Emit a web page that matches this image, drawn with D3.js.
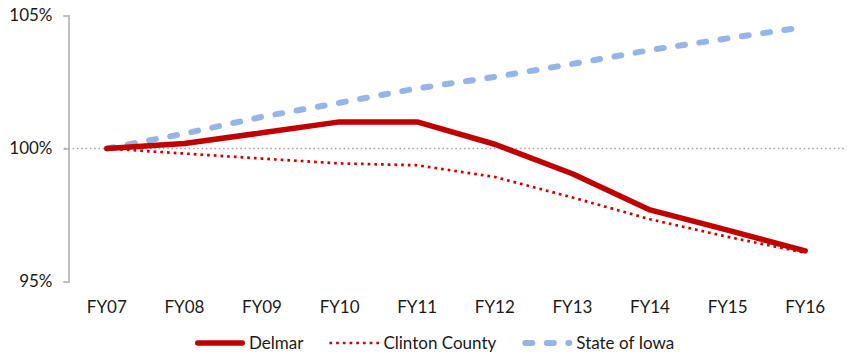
<!DOCTYPE html>
<html>
<head>
<meta charset="utf-8">
<script src="https://cdn.jsdelivr.net/npm/d3@7"></script>
<style>
  html, body { margin: 0; padding: 0; background: #fff; }
  svg { display: block; font-family: Lato, "Open Sans", sans-serif; }
</style>
</head>
<body>
<svg id="chart" width="847" height="356"></svg>
<script>
// Fiscal years on the horizontal axis
const categories = ["FY07", "FY08", "FY09", "FY10", "FY11", "FY12", "FY13", "FY14", "FY15", "FY16"];

// Index values (FY07 = 100%)
const delmar = [100, 100.19, 100.59, 101.0, 101.0, 100.16, 99.05, 97.69, 96.93, 96.15];
const clintonCounty = [100, 99.81, 99.62, 99.44, 99.37, 98.93, 98.16, 97.34, 96.68, 96.08];
const stateOfIowa = [100, 100.56, 101.19, 101.72, 102.26, 102.69, 103.18, 103.7, 104.14, 104.57];

const seriesNames = ["Delmar", "Clinton County", "State of Iowa"];
const yTicks = [95, 100, 105];
const baseline = 100;

const series = [
  { name: seriesNames[0], values: delmar, color: "#C00000", width: 5.5, dash: null, cap: "round" },
  { name: seriesNames[1], values: clintonCounty, color: "#D10000", width: 2.7, dash: "2.7,4", cap: "butt" },
  { name: seriesNames[2], values: stateOfIowa, color: "#97B4E6", width: 6, dash: "7,14.5", cap: "round" }
];

const svg = d3.select("#chart");
const fontSize = "17px";

const x = d3.scaleBand().domain(categories).range([68, 844]);
const y = d3.scaleLinear().domain([95, 105]).range([281.5, 15.5]);
const cx = c => x(c) + x.bandwidth() / 2;

// Vertical axis
const yAxis = svg.append("g")
  .attr("transform", "translate(68.5,0)")
  .call(d3.axisLeft(y).tickValues(yTicks).tickSize(5).tickPadding(11).tickFormat(d => d + "%"));
yAxis.select(".domain").attr("stroke", "#BFBFBF").attr("stroke-width", 2);
yAxis.selectAll(".tick line").attr("stroke", "#BFBFBF").attr("stroke-width", 2);
yAxis.selectAll(".tick text").attr("fill", "#1a1a1a").style("font-size", fontSize).attr("font-family", "Lato");

// Category labels
const xAxis = svg.append("g")
  .attr("transform", "translate(0,281.5)")
  .call(d3.axisBottom(x).tickSize(0).tickPadding(19));
xAxis.select(".domain").remove();
xAxis.selectAll(".tick text").attr("fill", "#1a1a1a").style("font-size", fontSize).attr("font-family", "Lato");

// 100% reference line
svg.append("line")
  .attr("x1", 64).attr("x2", 844)
  .attr("y1", y(baseline)).attr("y2", y(baseline))
  .attr("stroke", "#A6A6A6").attr("stroke-width", 1.6)
  .attr("stroke-dasharray", "1.6,2.7");

// Series lines
const line = d3.line()
  .x((d, i) => cx(categories[i]))
  .y(d => y(d));

svg.append("g").selectAll("path")
  .data(series.slice().reverse())
  .join("path")
  .attr("d", s => line(s.values))
  .attr("fill", "none")
  .attr("stroke", s => s.color)
  .attr("stroke-width", s => s.width)
  .attr("stroke-linejoin", "round")
  .attr("stroke-linecap", s => s.cap)
  .attr("stroke-dasharray", s => s.dash);

// Legend
const legend = svg.append("g");
let lx = 195;
const ly = 343;
series.forEach(s => {
  legend.append("line")
    .attr("x1", lx + (s.cap === "round" ? s.width / 2 : 0))
    .attr("x2", lx + 50 - (s.cap === "round" ? s.width / 2 : 0))
    .attr("y1", ly).attr("y2", ly)
    .attr("stroke", s.color)
    .attr("stroke-width", s.width)
    .attr("stroke-linecap", s.cap)
    .attr("stroke-dasharray", s.dash);
  const t = legend.append("text")
    .attr("x", lx + 54)
    .attr("y", ly)
    .attr("dy", "0.35em")
    .attr("fill", "#1a1a1a")
    .style("font-size", fontSize)
    .text(s.name);
  lx = lx + 54 + t.node().getComputedTextLength() + 26;
});
</script>
</body>
</html>
